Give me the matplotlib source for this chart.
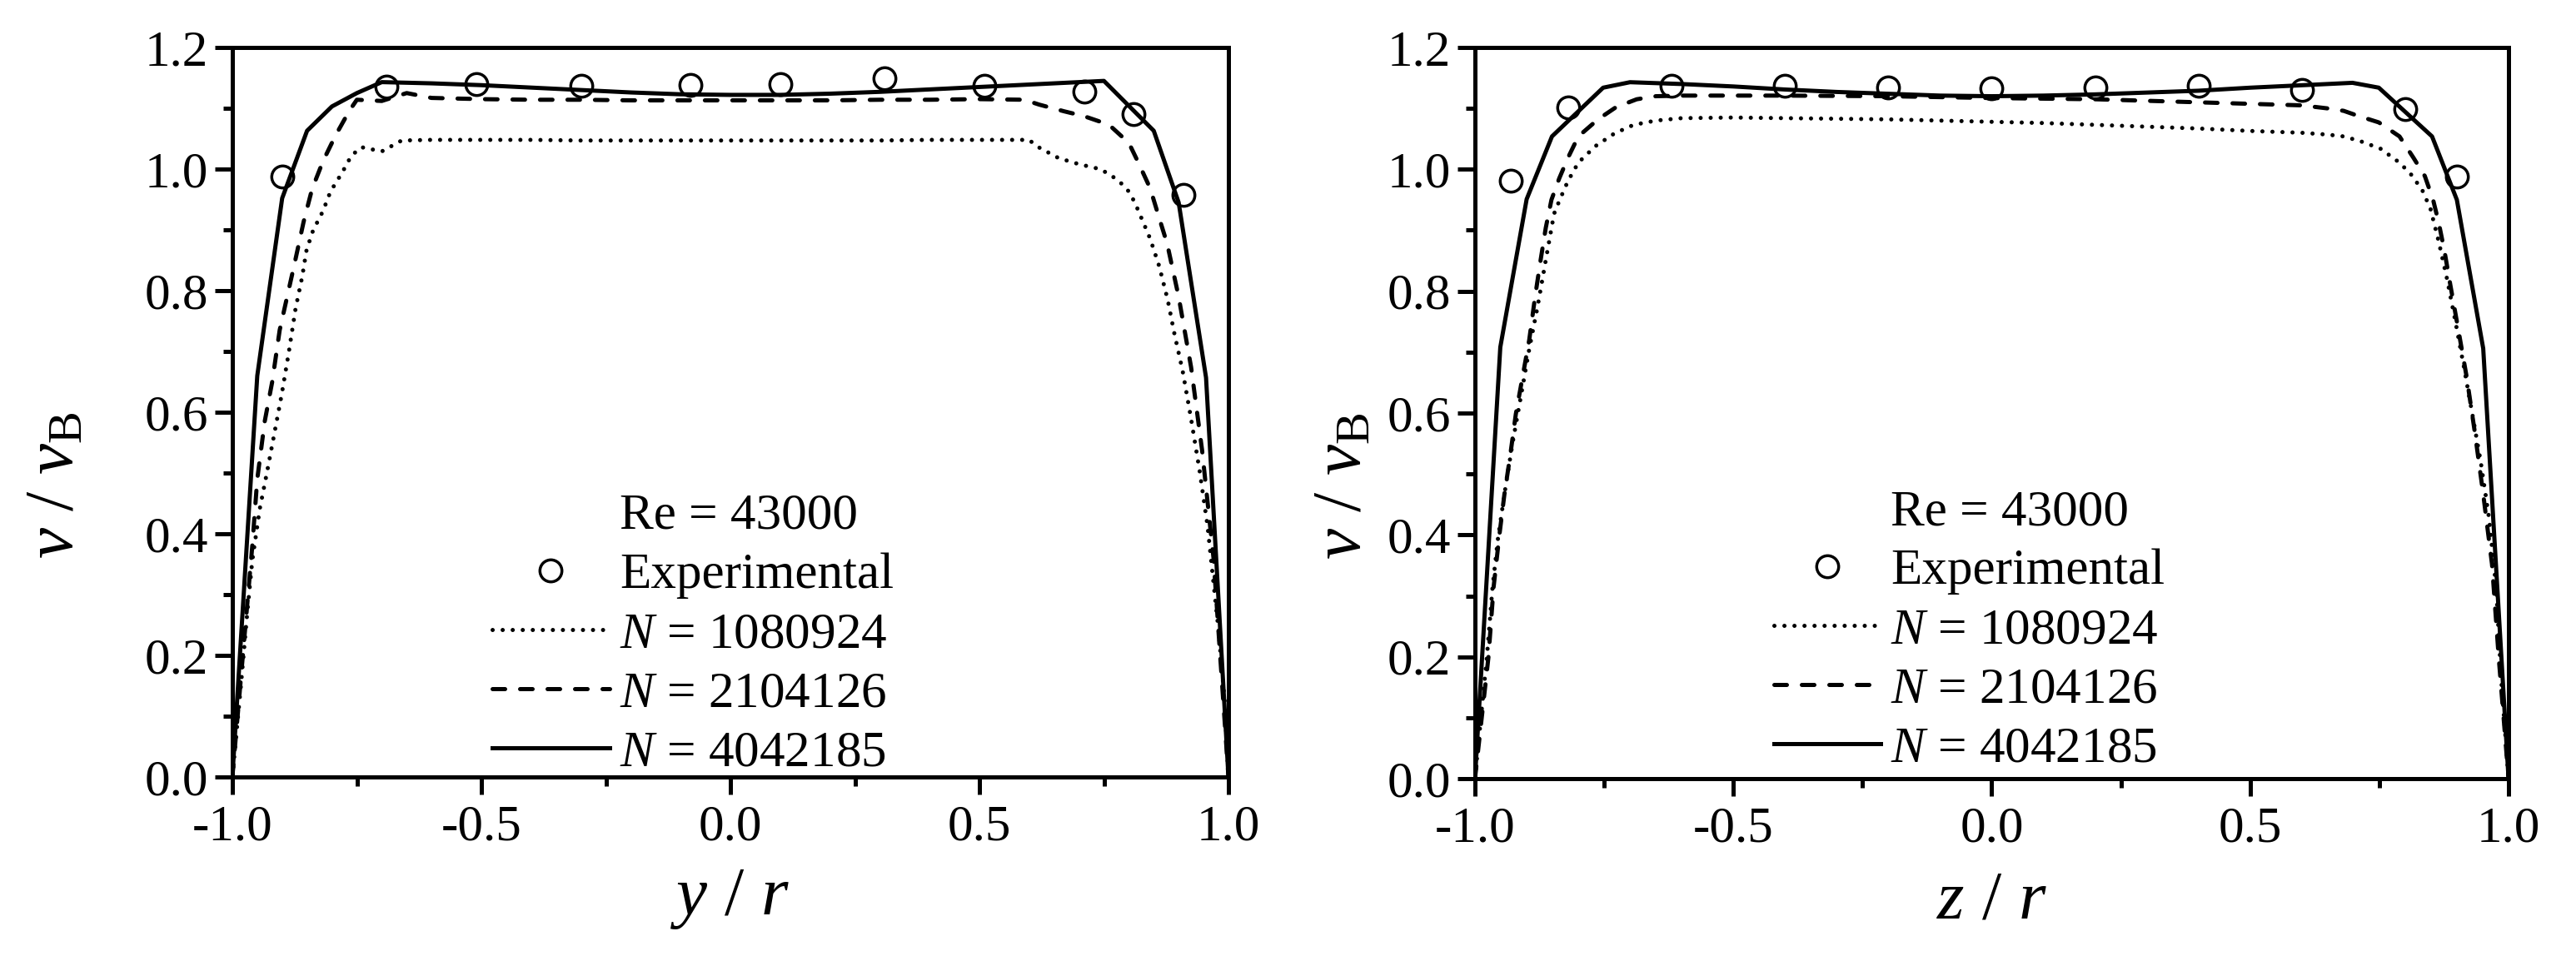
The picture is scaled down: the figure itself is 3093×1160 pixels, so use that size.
import matplotlib
matplotlib.use("Agg")
import matplotlib.pyplot as plt
from matplotlib.lines import Line2D
from matplotlib.ticker import MultipleLocator

# Times-like serif for everything, also inside math text
plt.rcParams['font.family'] = ['Liberation Serif', 'DejaVu Serif']
plt.rcParams['mathtext.fontset'] = 'custom'
plt.rcParams['mathtext.rm'] = 'Liberation Serif'
plt.rcParams['mathtext.it'] = 'Liberation Serif:italic'
plt.rcParams['mathtext.bf'] = 'Liberation Serif:bold'
plt.rcParams['axes.unicode_minus'] = False

# data - left panel (y / r)
exp_y_x = [-0.90, -0.69, -0.51, -0.30, -0.08, 0.10, 0.31, 0.51, 0.71, 0.81, 0.91]
exp_y_v = [0.988, 1.136, 1.140, 1.137, 1.138, 1.140, 1.150, 1.137, 1.127, 1.090, 0.958]

n1_y_x = [-1.0, -0.982, -0.97, -0.96, -0.945, -0.931, -0.918, -0.901, -0.887, -0.873, -0.86,
          -0.851, -0.838, -0.818, -0.803, -0.779, -0.761, -0.741, -0.70, -0.66, -0.60, -0.50,
          -0.40, -0.30, -0.20, -0.10, 0.0, 0.10, 0.20, 0.30, 0.40, 0.50, 0.60, 0.614, 0.659,
          0.70, 0.742, 0.764, 0.784, 0.80, 0.812, 0.826, 0.843, 0.861, 0.878, 0.891, 0.908,
          0.925, 0.942, 0.958, 0.969, 0.98, 0.992, 1.0]
n1_y_v = [0.0, 0.158, 0.271, 0.356, 0.441, 0.499, 0.555, 0.629, 0.697, 0.771, 0.822,
          0.867, 0.899, 0.931, 0.963, 0.995, 1.022, 1.036, 1.029, 1.047, 1.048, 1.048,
          1.048, 1.047, 1.047, 1.047, 1.047, 1.047, 1.047, 1.047, 1.048, 1.048, 1.048, 1.038, 1.018,
          1.008, 1.0, 0.99, 0.977, 0.963, 0.945, 0.918, 0.885, 0.84, 0.785, 0.731, 0.668,
          0.589, 0.504, 0.413, 0.327, 0.242, 0.129, 0.0]

n2_y_x = [-1.0, -0.96, -0.95, -0.935, -0.92, -0.905, -0.89, -0.875, -0.857, -0.84, -0.818,
          -0.793, -0.765, -0.75, -0.70, -0.65, -0.60, -0.50, -0.40, -0.30, -0.20, -0.10, 0.0,
          0.10, 0.20, 0.30, 0.40, 0.50, 0.59, 0.62, 0.67, 0.71, 0.76, 0.80, 0.82, 0.843, 0.86,
          0.877, 0.90, 0.925, 0.947, 0.97, 1.0]
n2_y_v = [0.0, 0.38, 0.49, 0.585, 0.65, 0.735, 0.79, 0.845, 0.913, 0.967, 1.013,
          1.055, 1.096, 1.114, 1.112, 1.125, 1.117, 1.115, 1.114, 1.114, 1.113, 1.113, 1.113,
          1.113, 1.113, 1.114, 1.114, 1.115, 1.114, 1.106, 1.095, 1.087, 1.073, 1.043, 1.009,
          0.968, 0.922, 0.877, 0.79, 0.674, 0.538, 0.36, 0.0]

n4_y_x = [-1.0, -0.95, -0.90, -0.85, -0.80, -0.75, -0.70, -0.60, -0.50, -0.40, -0.30, -0.20,
          -0.10, 0.0, 0.10, 0.20, 0.30, 0.40, 0.50, 0.60, 0.70, 0.75, 0.85, 0.90, 0.955, 1.0]
n4_y_v = [0.0, 0.66, 0.952, 1.063, 1.103, 1.125, 1.143, 1.141, 1.138, 1.134, 1.130, 1.126,
          1.123, 1.122, 1.122, 1.124, 1.127, 1.131, 1.135, 1.139, 1.143, 1.145, 1.063, 0.945,
          0.657, 0.0]

# data - right panel (z / r)
exp_z_x = [-0.93, -0.82, -0.62, -0.40, -0.20, 0.0, 0.20, 0.40, 0.60, 0.80, 0.90]
exp_z_v = [0.982, 1.101, 1.137, 1.137, 1.135, 1.133, 1.135, 1.137, 1.130, 1.099, 0.988]

n1_z_x = [-1.0, -0.977, -0.966, -0.956, -0.943, -0.927, -0.911, -0.895, -0.879, -0.863, -0.847,
          -0.836, -0.82, -0.80, -0.767, -0.73, -0.693, -0.65, -0.6, -0.5, -0.4, -0.3, -0.2,
          -0.1, 0.0, 0.1, 0.2, 0.3, 0.4, 0.5, 0.6, 0.65, 0.681, 0.714, 0.752, 0.789, 0.811,
          0.833, 0.849, 0.865, 0.881, 0.897, 0.914, 0.93, 0.946, 0.962, 0.976, 0.986, 1.0]
n1_z_v = [0.0, 0.199, 0.314, 0.391, 0.467, 0.552, 0.628, 0.705, 0.774, 0.851, 0.927,
          0.95, 0.981, 1.011, 1.038, 1.059, 1.073, 1.08, 1.084, 1.085, 1.084, 1.083, 1.082,
          1.080, 1.078, 1.076, 1.073, 1.070, 1.067, 1.063, 1.06, 1.057, 1.054, 1.046, 1.034,
          1.011, 0.992, 0.966, 0.935, 0.881, 0.82, 0.751, 0.674, 0.598, 0.521, 0.429, 0.314,
          0.161, 0.0]

n2_z_x = [-1.0, -0.974, -0.964, -0.953, -0.943, -0.932, -0.921, -0.908, -0.895, -0.884, -0.873,
          -0.863, -0.852, -0.837, -0.82, -0.80, -0.762, -0.727, -0.687, -0.65, -0.6, -0.4,
          -0.2, 0.0, 0.2, 0.4, 0.6, 0.65, 0.681, 0.708, 0.749, 0.789, 0.816, 0.838, 0.854,
          0.865, 0.876, 0.887, 0.903, 0.919, 0.935, 0.951, 0.968, 0.981, 1.0]
n2_z_v = [0.0, 0.199, 0.314, 0.398, 0.467, 0.529, 0.598, 0.659, 0.72, 0.789, 0.851,
          0.904, 0.95, 0.985, 1.019, 1.054, 1.082, 1.102, 1.115, 1.12, 1.121, 1.121,
          1.12, 1.117, 1.115, 1.11, 1.105, 1.10, 1.096, 1.088, 1.077, 1.054, 1.019, 0.989, 0.95,
          0.912, 0.866, 0.812, 0.736, 0.659, 0.567, 0.467, 0.352, 0.199, 0.0]

n4_z_x = [-1.0, -0.951, -0.90, -0.851, -0.752, -0.70, -0.6, -0.5, -0.4, -0.3, -0.2, -0.1,
          0.0, 0.1, 0.2, 0.3, 0.4, 0.5, 0.6, 0.698, 0.749, 0.852, 0.90, 0.951, 1.0]
n4_z_v = [0.0, 0.708, 0.951, 1.054, 1.134, 1.143, 1.140, 1.136, 1.131, 1.127, 1.124, 1.121,
          1.120, 1.121, 1.123, 1.126, 1.129, 1.134, 1.138, 1.142, 1.134, 1.054, 0.950, 0.706, 0.0]

labels = ["Re = 43000", "Experimental", "$N$ = 1080924", "$N$ = 2104126", "$N$ = 4042185"]
x_ticklabels = ["-1.0", "-0.5", "0.0", "0.5", "1.0"]
y_ticklabels = ["0.0", "0.2", "0.4", "0.6", "0.8", "1.0", "1.2"]

lw = 3.6
tick_fs = 44
label_fs = 60
dotted = (0, (0.01, 2.4))
dashed = (0, (3.0, 3.6))

fig = plt.figure(figsize=(30.93, 11.6), dpi=100)
ax1 = fig.add_axes([279 / 3093, 1 - 933 / 1160, 1196 / 3093, 876 / 1160])
ax2 = fig.add_axes([1771 / 3093, 1 - 935 / 1160, 1241 / 3093, 878 / 1160])


def draw_panel(ax, ex, ev, x1, v1, x2, v2, x4, v4, xlabel, leg_x, leg_y, hlen, ylab_x):
    ax.plot(x1, v1, color="k", lw=lw, linestyle=dotted, dash_capstyle="round")
    ax.plot(x2, v2, color="k", lw=lw, linestyle=dashed, dash_capstyle="round")
    ax.plot(x4, v4, color="k", lw=lw, linestyle="-")
    ax.plot(ex, ev, linestyle="none", marker="o", ms=19, mfc="none", mec="k", mew=2.5)

    ax.set_xlim(-1.0, 1.0)
    ax.set_ylim(0.0, 1.2)
    ax.xaxis.set_minor_locator(MultipleLocator(0.25))
    ax.yaxis.set_minor_locator(MultipleLocator(0.1))
    ax.set_xticks([-1.0, -0.5, 0.0, 0.5, 1.0], x_ticklabels)
    ax.set_yticks([0.0, 0.2, 0.4, 0.6, 0.8, 1.0, 1.2], y_ticklabels)
    ax.tick_params(which="both", direction="out", width=3.6, top=False, right=False)
    ax.tick_params(which="major", length=15, labelsize=tick_fs)
    ax.tick_params(which="minor", length=8)
    ax.tick_params(axis="x", which="major", pad=9)
    ax.tick_params(axis="y", which="major", pad=6)
    for sp in ax.spines.values():
        sp.set_linewidth(3.6)

    ax.set_xlabel(xlabel, fontsize=label_fs)
    ax.set_ylabel("$v$ / $v_{\\mathrm{B}}$", fontsize=label_fs)
    ax.xaxis.set_label_coords(0.5, -0.125)
    ax.yaxis.set_label_coords(ylab_x, 0.40)

    # legend: blank first row carries the Reynolds number
    handles = [
        Line2D([], [], linestyle="none"),
        Line2D([], [], linestyle="none", marker="o", ms=19, mfc="none", mec="k", mew=2.5),
        Line2D([], [], color="k", lw=lw, linestyle=dotted, dash_capstyle="round"),
        Line2D([], [], color="k", lw=lw, linestyle=dashed, dash_capstyle="round"),
        Line2D([], [], color="k", lw=lw, linestyle="-"),
    ]
    ax.legend(handles, labels, loc="center left", bbox_to_anchor=(leg_x, leg_y),
              frameon=False, fontsize=tick_fs, handlelength=hlen, handletextpad=0.2,
              labelspacing=0.25, borderpad=0, borderaxespad=0, numpoints=1)


draw_panel(ax1, exp_y_x, exp_y_v, n1_y_x, n1_y_v, n2_y_x, n2_y_v, n4_y_x, n4_y_v,
           "$y$ / $r$", 0.261, 0.195, 2.3, -0.145)
draw_panel(ax2, exp_z_x, exp_z_v, n1_z_x, n1_z_v, n2_z_x, n2_z_v, n4_z_x, n4_z_v,
           "$z$ / $r$", 0.289, 0.202, 2.1, -0.096)

fig.savefig("out.png", dpi=100)
